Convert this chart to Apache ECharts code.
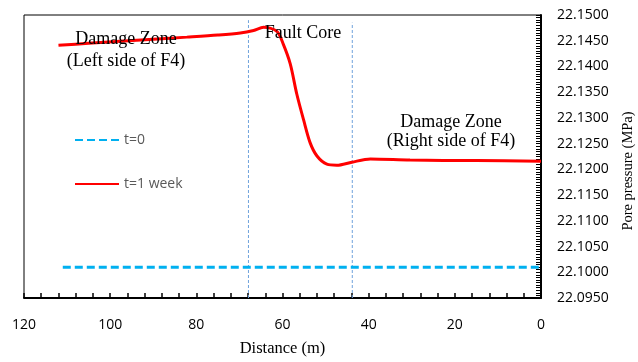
<!DOCTYPE html>
<html>
<head>
<meta charset="utf-8">
<script src="https://cdn.jsdelivr.net/npm/echarts@6/dist/echarts.min.js"></script>
<style>
  html, body { margin: 0; padding: 0; background: #fff; }
  #chart { width: 638px; height: 362px; }
</style>
</head>
<body>
<div id="chart"></div>
<script>
// Pore pressure along the profile across fault F4 (distance in m, pressure in MPa)
const distT0 = [111, 0];
const presT0 = [22.1010, 22.1010];

const distWeek = [112.0, 105.0, 97.7, 90.0, 82.2, 75.0, 69.8, 66.7, 64.4, 61.3, 59.8, 58.2, 56.7, 55.1, 53.6, 52.0, 49.7, 47.4, 43.9, 39.6, 30.4, 15.0, 0];
const presWeek = [22.1441, 22.1445, 22.1449, 22.1453, 22.1457, 22.1461, 22.1465, 22.1470, 22.1476, 22.1468, 22.1443, 22.1405, 22.1347, 22.1296, 22.1252, 22.1226, 22.1210, 22.1208, 22.1214, 22.1220, 22.1218, 22.1217, 22.1216];

// Fault core boundaries (m) and the top of each marker line (MPa)
const coreEdges = [67.9, 43.8];
const coreTops = [22.1490, 22.1485];

const xTicks = { min: 0, max: 120, step: 20 };
const yTicks = { min: 22.095, max: 22.15, step: 0.005 };

const zoneLabels = [
  { text: 'Damage Zone', x: 126, y: 39 },
  { text: '(Left side of F4)', x: 126, y: 61 },
  { text: 'Fault Core', x: 303, y: 33 },
  { text: 'Damage Zone', x: 451, y: 122 },
  { text: '(Right side of F4)', x: 451, y: 141 }
];

const zip = (a, b) => a.map((v, i) => [v, b[i]]);

const chart = echarts.init(document.getElementById('chart'), null, { renderer: 'canvas' });

const serif = '"Liberation Serif", "DejaVu Serif", serif';
const sans = '"Open Sans", "Noto Sans", sans-serif';

const edgeSeries = coreEdges.map((d, i) => ({
  name: 'edge' + i,
  type: 'line',
  data: [[d, yTicks.min], [d, coreTops[i]]],
  symbol: 'none',
  silent: true,
  lineStyle: { color: '#6fa3dc', width: 1, type: [3, 2] },
  z: 1
}));

chart.setOption({
  animation: false,
  backgroundColor: '#ffffff',
  grid: {
    left: 24, right: 97, top: 15, bottom: 59,
    show: true, borderColor: '#000', borderWidth: 1
  },
  legend: {
    data: ['t=0', 't=1 week'],
    orient: 'vertical',
    left: 69, top: 128,
    itemWidth: 44, itemHeight: 14, itemGap: 30,
    itemStyle: { opacity: 0 },
    textStyle: { color: '#595959', fontSize: 14, fontFamily: sans }
  },
  xAxis: {
    type: 'value',
    inverse: true,
    min: xTicks.min, max: xTicks.max, interval: xTicks.step,
    name: 'Distance (m)',
    nameLocation: 'middle',
    nameGap: 42,
    nameTextStyle: { fontFamily: serif, fontSize: 16.5, color: '#000' },
    axisLine: { lineStyle: { color: '#000', width: 2 } },
    axisTick: { inside: true, length: 5, lineStyle: { color: '#000', width: 1.5 } },
    minorTick: { show: true, splitNumber: 5, length: 5, lineStyle: { color: '#000', width: 1.5 } },
    splitLine: { show: false },
    axisLabel: { color: '#000', fontSize: 14, fontFamily: sans, margin: 20 }
  },
  yAxis: {
    type: 'value',
    position: 'right',
    min: yTicks.min, max: yTicks.max, interval: yTicks.step,
    axisLine: { show: true, lineStyle: { color: '#000', width: 2 } },
    axisTick: { show: true, inside: true, length: 5, lineStyle: { color: '#000', width: 1 } },
    minorTick: { show: true, splitNumber: 10, length: 5, lineStyle: { color: '#000', width: 1 } },
    splitLine: { show: false },
    axisLabel: {
      color: '#000', fontSize: 14, fontFamily: sans, margin: 16,
      padding: [5, 0, 0, 0],
      formatter: v => v.toFixed(4)
    }
  },
  graphic: [
    ...zoneLabels.map(l => ({
      type: 'text',
      x: l.x, y: l.y,
      style: {
        text: l.text, fill: '#000', font: '18px ' + serif,
        textAlign: 'center', textVerticalAlign: 'middle'
      },
      z: 10
    })),
    {
      type: 'text',
      x: 628, y: 171,
      rotation: Math.PI / 2,
      style: {
        text: 'Pore pressure (MPa)', fill: '#000', font: '14.5px ' + serif,
        textAlign: 'center', textVerticalAlign: 'middle'
      }
    }
  ],
  series: [
    ...edgeSeries,
    {
      name: 't=0',
      type: 'line',
      data: zip(distT0, presT0),
      symbol: 'none',
      lineStyle: { color: '#00b0f0', width: 3, type: [8, 4] },
      itemStyle: { color: '#00b0f0' },
      z: 3
    },
    {
      name: 't=1 week',
      type: 'line',
      data: zip(distWeek, presWeek),
      symbol: 'none',
      smooth: 0.3,
      lineStyle: { color: '#ff0000', width: 3 },
      itemStyle: { color: '#ff0000' },
      z: 4
    }
  ]
});
</script>
</body>
</html>
